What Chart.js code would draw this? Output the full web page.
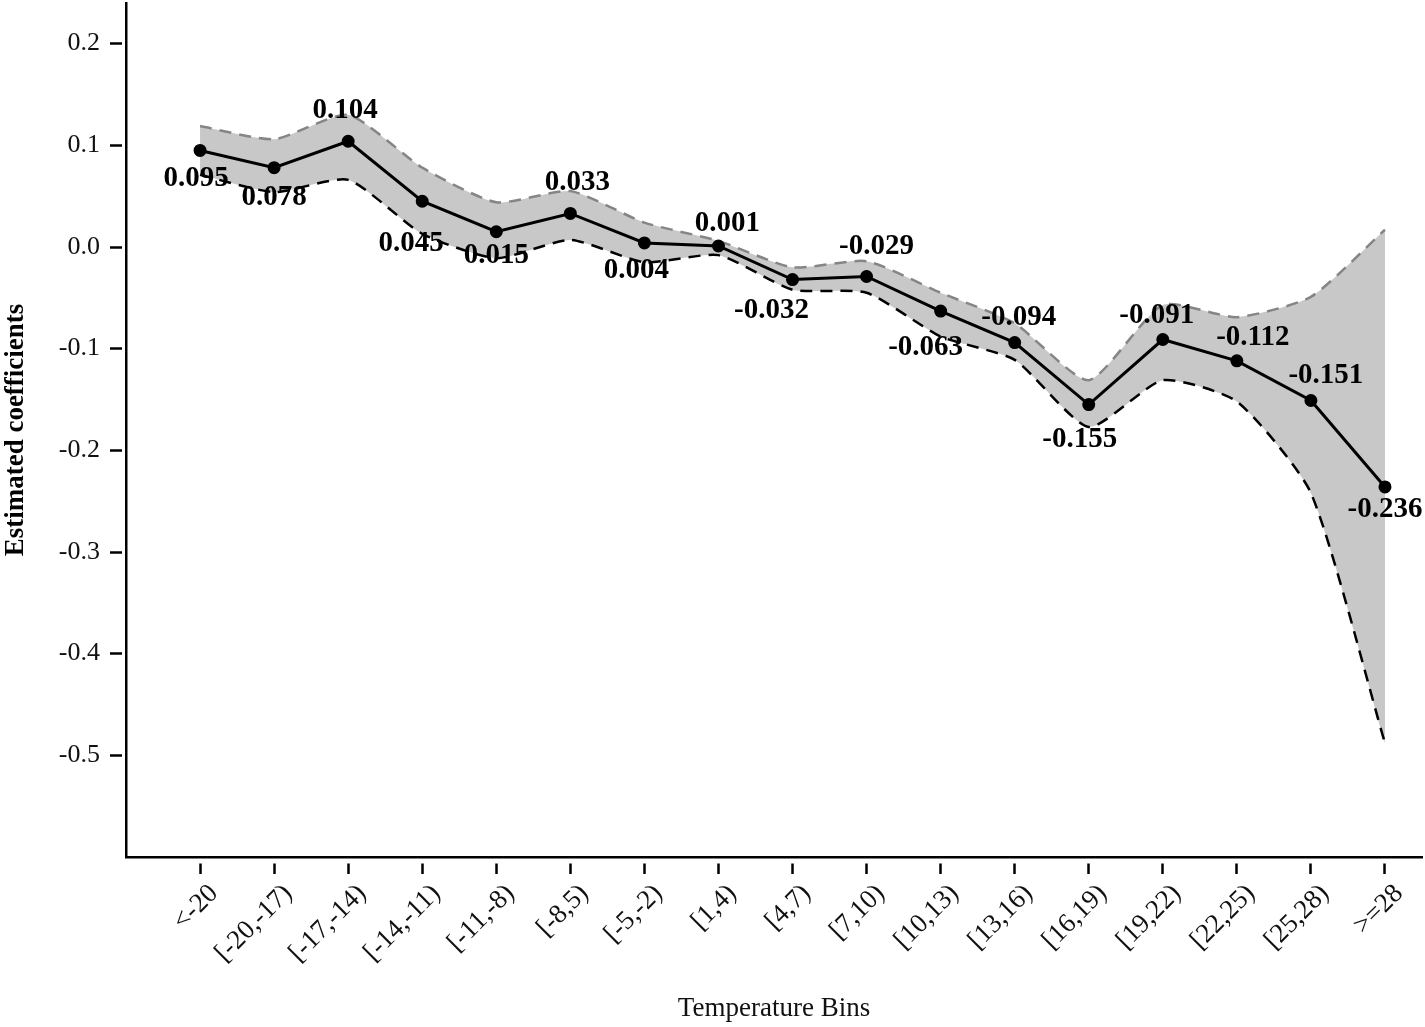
<!DOCTYPE html>
<html>
<head>
<meta charset="utf-8">
<title>Estimated coefficients by temperature bin</title>
<script src="https://cdn.jsdelivr.net/npm/chart.js@4.4.1/dist/chart.umd.min.js"></script>
<style>
  html, body { margin: 0; padding: 0; background: #fff; }
  #wrap { width: 1425px; height: 1027px; position: relative; }
</style>
</head>
<body>
<div id="wrap"><canvas id="coefChart"></canvas></div>
<script>
// temperature bins on the x axis
var bins = ['<-20', '[-20,-17)', '[-17,-14)', '[-14,-11)', '[-11,-8)', '[-8,5)', '[-5,-2)',
            '[1,4)', '[4,7)', '[7,10)', '[10,13)', '[13,16)', '[16,19)', '[19,22)',
            '[22,25)', '[25,28)', '>=28'];

// point estimates
var coefs = [0.095, 0.078, 0.104, 0.045, 0.015, 0.033, 0.004, 0.001, -0.032, -0.029,
             -0.063, -0.094, -0.155, -0.091, -0.112, -0.151, -0.236];

// confidence band
var upperCI = [0.119, 0.106, 0.130, 0.078, 0.044, 0.055, 0.024, 0.006, -0.020, -0.014,
               -0.045, -0.075, -0.131, -0.057, -0.069, -0.049, 0.017];
var lowerCI = [0.071, 0.054, 0.066, 0.013, -0.011, 0.007, -0.015, -0.008, -0.042, -0.045,
               -0.088, -0.111, -0.177, -0.131, -0.152, -0.242, -0.488];

// y tick values
var yTicks = [0.2, 0.1, 0.0, -0.1, -0.2, -0.3, -0.4, -0.5];

// where each value label sits relative to its point (px)
var labelOffsets = [[-4, 28], [0, 30], [-3, -31], [-11, 42], [0, 24], [7, -31], [-8, 28],
                    [9, -22], [-21, 31], [10, -30], [-15, 36], [4, -25], [-9, 35],
                    [-6, -24], [16, -23], [15, -25], [0, 23]];

function toPoints(arr) {
  return arr.map(function (v, i) { return { x: i, y: v }; });
}

// draws the bold numbers next to each point
var valueLabels = {
  id: 'valueLabels',
  afterDatasetsDraw: function (chart) {
    var ctx = chart.ctx;
    var meta = chart.getDatasetMeta(0);
    ctx.save();
    ctx.font = 'bold 29px "Liberation Serif", "Times New Roman", serif';
    ctx.fillStyle = '#000';
    ctx.textAlign = 'center';
    ctx.textBaseline = 'middle';
    meta.data.forEach(function (pt, i) {
      var off = labelOffsets[i];
      ctx.fillText(coefs[i].toFixed(3), pt.x + off[0], pt.y + off[1]);
    });
    ctx.restore();
  }
};

var serif = '"Liberation Serif", "Times New Roman", serif';

new Chart(document.getElementById('coefChart').getContext('2d'), {
  type: 'line',
  data: {
    datasets: [
      {
        label: 'Estimate',
        data: toPoints(coefs),
        borderColor: '#000',
        borderWidth: 3,
        pointRadius: 5,
        pointBackgroundColor: '#000',
        pointBorderColor: '#000',
        fill: false,
        tension: 0,
        order: 0
      },
      {
        label: 'Upper',
        data: toPoints(upperCI),
        borderColor: '#858585',
        borderWidth: 2.5,
        borderDash: [12, 8],
        pointRadius: 0,
        backgroundColor: '#c8c8c8',
        fill: '+1',
        tension: 0.2,
        order: 2
      },
      {
        label: 'Lower',
        data: toPoints(lowerCI),
        borderColor: '#000',
        borderWidth: 2.5,
        borderDash: [12, 8],
        pointRadius: 0,
        fill: false,
        tension: 0.2,
        order: 1
      }
    ]
  },
  options: {
    responsive: true,
    maintainAspectRatio: false,
    animation: false,
    layout: { autoPadding: false, padding: { top: 3, right: 3, left: 0, bottom: 0 } },
    plugins: {
      legend: { display: false },
      tooltip: { enabled: false }
    },
    scales: {
      x: {
        type: 'linear',
        min: -1,
        max: 16.5,
        afterBuildTicks: function (scale) {
          scale.ticks = bins.map(function (b, i) { return { value: i }; });
        },
        afterFit: function (scale) {
          scale.height = 170;
          scale.paddingLeft = 0;
          scale.paddingRight = 0;
        },
        border: { display: true, color: '#000', width: 2.5 },
        grid: {
          drawOnChartArea: false,
          tickLength: 17,
          tickWidth: 2.5,
          tickColor: '#000',
          tickBorderDash: [0, 5, 12, 40]
        },
        ticks: {
          autoSkip: false,
          minRotation: 45,
          maxRotation: 45,
          padding: 4,
          labelOffset: 14,
          color: '#111',
          font: { family: serif, size: 27 },
          callback: function (v) { return bins[v]; }
        },
        title: {
          display: true,
          text: 'Temperature Bins',
          color: '#111',
          font: { family: serif, size: 27 },
          padding: { top: 0, bottom: 2 }
        }
      },
      y: {
        min: -0.6,
        max: 0.24,
        afterBuildTicks: function (scale) {
          scale.ticks = yTicks.map(function (v) { return { value: v }; });
        },
        afterFit: function (scale) {
          scale.width = 126;
          scale.paddingTop = 0;
          scale.paddingBottom = 0;
        },
        border: { display: true, color: '#000', width: 2.5 },
        grid: {
          drawOnChartArea: false,
          tickLength: 16,
          tickWidth: 2.5,
          tickColor: '#000',
          tickBorderDash: [12, 40]
        },
        ticks: {
          padding: 10,
          color: '#111',
          font: { family: serif, size: 26 },
          callback: function (v) { return Number(v).toFixed(1); }
        },
        title: {
          display: true,
          text: 'Estimated coefficients',
          color: '#000',
          font: { family: serif, size: 27, weight: 'bold' },
          padding: { top: 0, bottom: 0 }
        }
      }
    }
  },
  plugins: [valueLabels]
});
</script>
</body>
</html>
